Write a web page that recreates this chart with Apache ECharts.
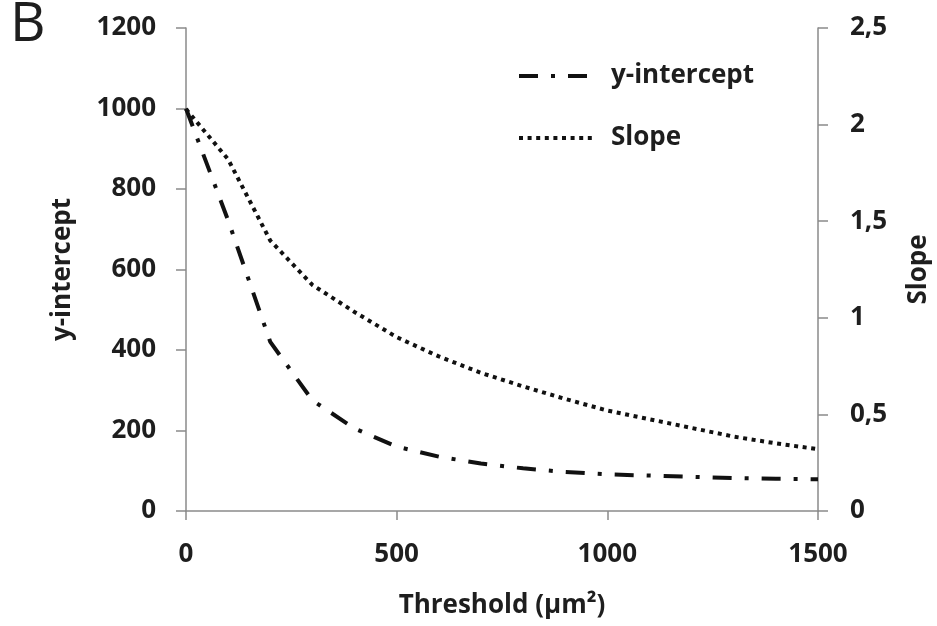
<!DOCTYPE html>
<html>
<head>
<meta charset="utf-8">
<script src="https://cdn.jsdelivr.net/npm/echarts@6/dist/echarts.min.js"></script>
<style>
html,body{margin:0;padding:0;background:#fff;}
#chart{width:937px;height:626px;}
</style>
</head>
<body>
<div id="chart"></div>
<script>
// Data
var thresholds = [0, 100, 200, 300, 400, 500, 600, 700, 800, 900, 1000, 1100, 1200, 1300, 1400, 1500];
var yIntercept = [1000, 722, 420, 275, 205, 160, 135, 118, 106, 97, 91, 88, 85, 82, 80, 79];
var slope = [2.08, 1.82, 1.40, 1.17, 1.03, 0.90, 0.80, 0.715, 0.645, 0.58, 0.52, 0.475, 0.43, 0.385, 0.35, 0.32];
var xTicks = [0, 500, 1000, 1500];
var seriesNames = ['y-intercept', 'Slope'];
var axisTitles = { x: 'Threshold (\u00b5m\u00b2)', left: 'y-intercept', right: 'Slope' };
var panelLabel = 'B';

function pairs(xs, ys) { return xs.map(function (x, i) { return [x, ys[i]]; }); }

var FONT = "'Open Sans', 'Liberation Sans', sans-serif";
var TXT = '#1e1e1e';
var AX = '#8a8a8a';
var FS = 26;

var chart = echarts.init(document.getElementById('chart'), null, { renderer: 'canvas' });
chart.setOption({
  backgroundColor: '#fff',
  animation: false,
  textStyle: { fontFamily: FONT },
  grid: { left: 186, right: 119, top: 28, bottom: 115, containLabel: false, outerBoundsMode: 'none' },
  graphic: [{
    type: 'text', left: 10, top: -2,
    style: { text: panelLabel, font: 'normal 55px ' + FONT, fill: TXT }
  }],
  legend: {
    orient: 'vertical', left: 512, top: 58, itemWidth: 73, itemHeight: 14, itemGap: 36,
    itemStyle: { opacity: 0 },
    lineStyle: { width: 4 },
    textStyle: { fontSize: FS, fontWeight: 'bold', color: TXT, padding: [0, 0, 0, 14] },
    data: seriesNames
  },
  xAxis: {
    type: 'value', min: 0, max: 1500, interval: 500,
    name: axisTitles.x, nameLocation: 'middle', nameGap: 82,
    nameTextStyle: { fontSize: FS, fontWeight: 'bold', color: TXT },
    axisLine: { lineStyle: { color: AX, width: 1.5 } },
    axisTick: { show: true, length: 9, lineStyle: { color: AX, width: 1.5 } },
    axisLabel: { fontSize: FS, fontWeight: 'bold', color: TXT, margin: 31,
      formatter: function (v) { return String(v); } },
    splitLine: { show: false }
  },
  yAxis: [{
    type: 'value', min: 0, max: 1200, interval: 200, position: 'left',
    name: axisTitles.left, nameLocation: 'middle', nameGap: 110, nameRotate: 90,
    nameTextStyle: { fontSize: FS, fontWeight: 'bold', color: TXT },
    axisLine: { show: true, lineStyle: { color: AX, width: 1.5 } },
    axisTick: { show: true, length: 10, lineStyle: { color: AX, width: 1.5 } },
    axisLabel: { fontSize: FS, fontWeight: 'bold', color: TXT, margin: 30,
      formatter: function (v) { return String(v); } },
    splitLine: { show: false }
  }, {
    type: 'value', min: 0, max: 2.5, interval: 0.5, position: 'right',
    name: axisTitles.right, nameLocation: 'middle', nameGap: 88, nameRotate: 90,
    nameTextStyle: { fontSize: FS, fontWeight: 'bold', color: TXT },
    axisLine: { show: true, lineStyle: { color: AX, width: 1.5 } },
    axisTick: { show: true, length: 10, lineStyle: { color: AX, width: 1.5 } },
    axisLabel: { fontSize: FS, fontWeight: 'bold', color: TXT, margin: 32,
      formatter: function (v) { return String(v).replace('.', ','); } },
    splitLine: { show: false }
  }],
  series: [{
    name: seriesNames[0], type: 'line', yAxisIndex: 0, symbol: 'none',
    data: pairs(thresholds, yIntercept),
    lineStyle: { color: '#111', width: 4, type: [19, 13, 4, 13], cap: 'butt' },
    itemStyle: { color: '#111' }
  }, {
    name: seriesNames[1], type: 'line', yAxisIndex: 1, symbol: 'none',
    data: pairs(thresholds, slope),
    lineStyle: { color: '#111', width: 4, type: [4, 4.6], cap: 'butt' },
    itemStyle: { color: '#111' }
  }]
});
</script>
</body>
</html>
